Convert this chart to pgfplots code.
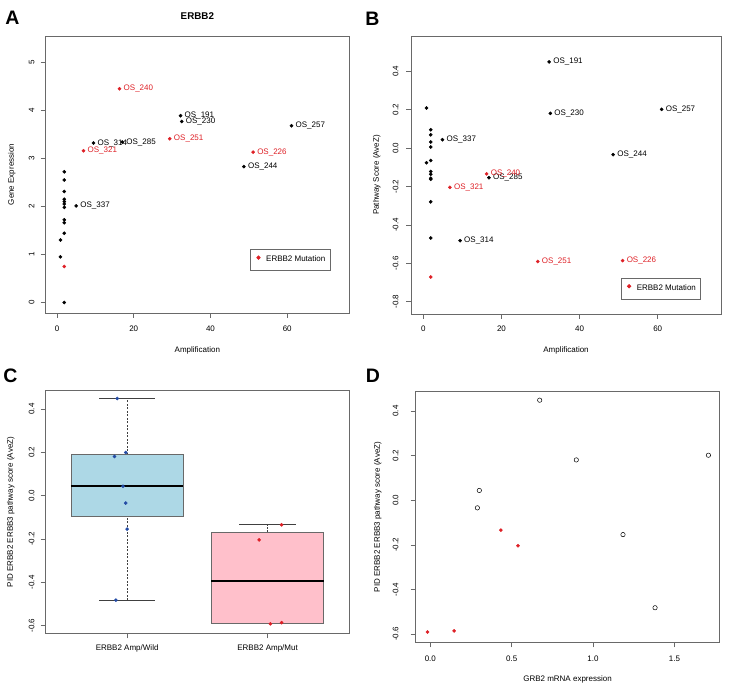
\documentclass[border=0pt]{standalone}
\usepackage{pgfplots}
\pgfplotsset{compat=1.18}
\usepgfplotslibrary{statistics}
\usepackage{fontspec}
\setmainfont{Liberation Sans}

\definecolor{framegray}{RGB}{105,105,105}
\definecolor{mutred}{RGB}{222,32,38}
\definecolor{wildblue}{RGB}{35,75,165}
\definecolor{boxblue}{RGB}{173,216,230}
\definecolor{boxpink}{RGB}{255,192,203}

\newcommand{\sz}{\fontsize{8bp}{9.6bp}\selectfont}

% Note: y tick labels and y labels are rotated by 90 degrees, so a local
% yshift moves them to the left.
\pgfplotsset{
  rpanel/.style={
    scale only axis,
    clip=false,
    axis line style={framegray, line width=0.7bp},
    every tick/.style={framegray, line width=0.7bp},
    tick align=outside,
    major tick length=5bp,
    tick pos=left,
    /pgf/number format/assume math mode=true,
    x tick label style={anchor=center, font=\sz},
    y tick label style={anchor=center, rotate=90, font=\sz},
    every axis x label/.style={at={(rel axis cs:0.5,0)}, anchor=center, font=\sz},
    every axis y label/.style={at={(rel axis cs:0,0.5)}, anchor=center, rotate=90, font=\sz},
  },
  ptlabels/.style={
    nodes near coords, point meta=explicit symbolic,
    nodes near coords align=horizontal,
    every node near coord/.append style={anchor=west, inner sep=0pt, xshift=4bp, font=\sz, text=#1},
  },
  mutlegend/.style={
    legend style={draw=framegray, line width=0.7bp, inner xsep=4.7bp, inner ysep=6.2bp,
      nodes={inner sep=0pt, text depth=0.22em}, font=\sz},
    legend cell align=left,
    legend image code/.code={\fill[mutred] (0bp,0.25em) circle (1.7bp); \path (-3bp,0) (7.3bp,0);},
  },
}

\begin{document}
\begin{tikzpicture}[x=1bp,y=1bp]
\useasboundingbox (0,0) rectangle (730,687);

% ---------------- A: expression vs amplification ----------------
\begin{axis}[rpanel, at={(45.7bp,374bp)}, anchor=south west,
  width=303.3bp, height=277bp,
  xmin=-2.94, xmax=76.1, ymin=-0.23, ymax=5.54,
  xtick={0,20,40,60}, ytick={0,1,2,3,4,5},
  x tick label style={yshift=-11bp}, y tick label style={yshift=9bp},
  xlabel={Amplification}, ylabel={Gene Expression},
  xlabel style={yshift=-37bp}, ylabel style={yshift=34bp},
  title={ERBB2},
  every axis title/.style={at={(rel axis cs:0.5,1)}, anchor=center, yshift=20bp,
    font=\bfseries\fontsize{9.8bp}{11bp}\selectfont},
  mutlegend,
  legend style={at={(rel axis cs:0.674,0.231)}, anchor=north west},
]
\addplot[only marks, mark=*, mark size=1.6bp, black, forget plot] table {
x y
1.9 2.71
1.9 2.54
1.9 2.30
1.9 2.14
1.9 2.09
1.9 2.04
1.9 1.97
1.9 1.71
1.9 1.65
1.9 1.43
0.9 1.29
0.9 0.94
1.9 -0.01
};
\addplot[only marks, mark=*, mark size=1.6bp, black, forget plot, ptlabels=black] table[meta=label] {
x y label
32.2 3.88 OS\_191
32.5 3.76 OS\_230
61.1 3.67 OS\_257
9.5 3.31 OS\_314
17.0 3.33 OS\_285
48.7 2.82 OS\_244
5.0 2.00 OS\_337
};
\addplot[only marks, mark=*, mark size=1.6bp, mutred, forget plot, ptlabels=mutred] table[meta=label] {
x y label
16.3 4.44 OS\_240
29.4 3.40 OS\_251
6.9 3.15 OS\_321
51.1 3.12 OS\_226
};
\addplot[only marks, mark=*, mark size=1.6bp, mutred] table {
x y
1.9 0.74
};
\addlegendentry{ERBB2 Mutation}
\end{axis}

% ---------------- B: pathway score vs amplification ----------------
\begin{axis}[rpanel, at={(411bp,373bp)}, anchor=south west,
  width=310bp, height=278bp,
  xmin=-3.15, xmax=76.2, ymin=-0.864, ymax=0.584,
  xtick={0,20,40,60},
  ytick={-0.8,-0.6,-0.4,-0.2,0,0.2,0.4},
  yticklabels={-0.8,-0.6,-0.4,-0.2,0.0,0.2,0.4},
  x tick label style={yshift=-10bp}, y tick label style={yshift=10.3bp},
  xlabel={Amplification}, ylabel={Pathway Score (AveZ)},
  xlabel style={yshift=-36bp}, ylabel style={yshift=34.3bp},
  mutlegend,
  legend style={at={(rel axis cs:0.6765,0.1306)}, anchor=north west},
]
\addplot[only marks, mark=*, mark size=1.6bp, black, forget plot] table {
x y
0.8 0.209
1.9 0.096
1.9 0.069
1.9 0.032
1.9 0.006
0.8 -0.076
1.9 -0.065
1.9 -0.122
1.9 -0.136
1.9 -0.157
1.9 -0.162
1.9 -0.280
1.9 -0.468
};
\addplot[only marks, mark=*, mark size=1.6bp, black, forget plot, ptlabels=black] table[meta=label] {
x y label
32.2 0.449 OS\_191
32.5 0.181 OS\_230
61.0 0.202 OS\_257
4.9 0.044 OS\_337
48.6 -0.034 OS\_244
16.8 -0.154 OS\_285
9.4 -0.482 OS\_314
};
\addplot[only marks, mark=*, mark size=1.6bp, mutred, forget plot, ptlabels=mutred] table[meta=label] {
x y label
16.2 -0.134 OS\_240
6.8 -0.204 OS\_321
29.3 -0.591 OS\_251
51.0 -0.586 OS\_226
};
\addplot[only marks, mark=*, mark size=1.6bp, mutred] table {
x y
1.9 -0.671
};
\addlegendentry{ERBB2 Mutation}
\end{axis}

% ---------------- C: boxplots by group ----------------
\begin{axis}[rpanel, at={(45.7bp,53.7bp)}, anchor=south west,
  width=303.3bp, height=242.6bp,
  xmin=0.42, xmax=2.58, ymin=-0.635, ymax=0.485,
  xtick={1,2}, xticklabels={ERBB2 Amp/Wild, ERBB2 Amp/Mut},
  ytick={-0.6,-0.4,-0.2,0,0.2,0.4},
  yticklabels={-0.6,-0.4,-0.2,0.0,0.2,0.4},
  x tick label style={yshift=-10bp}, y tick label style={yshift=9bp},
  ylabel={PID ERBB2 ERBB3 pathway score (AveZ)},
  ylabel style={yshift=35bp},
  boxplot/draw direction=y,
  boxplot/box extend=0.8,
  boxplot/whisker extend=0.4,
  boxplot/every median/.style={black, line width=1.7bp},
  boxplot/every whisker/.style={black!75, line width=0.7bp},
  boxplot/draw/lower whisker/.code={
    \draw[/pgfplots/boxplot/every whisker/.try, dash pattern=on 2bp off 1.5bp]
      (boxplot box cs:\pgfplotsboxplotvalue{lower whisker},0.5) --
      (boxplot box cs:\pgfplotsboxplotvalue{lower quartile},0.5);
    \draw[/pgfplots/boxplot/every whisker/.try]
      (boxplot whisker cs:\pgfplotsboxplotvalue{lower whisker},0) --
      (boxplot whisker cs:\pgfplotsboxplotvalue{lower whisker},1);
  },
  boxplot/draw/upper whisker/.code={
    \draw[/pgfplots/boxplot/every whisker/.try, dash pattern=on 2bp off 1.5bp]
      (boxplot box cs:\pgfplotsboxplotvalue{upper quartile},0.5) --
      (boxplot box cs:\pgfplotsboxplotvalue{upper whisker},0.5);
    \draw[/pgfplots/boxplot/every whisker/.try]
      (boxplot whisker cs:\pgfplotsboxplotvalue{upper whisker},0) --
      (boxplot whisker cs:\pgfplotsboxplotvalue{upper whisker},1);
  },
]
\addplot[boxplot prepared={draw position=1,
    lower whisker=-0.482, lower quartile=-0.094, median=0.044,
    upper quartile=0.190, upper whisker=0.449},
  boxplot/every box/.style={fill=boxblue, draw=framegray, line width=0.7bp}]
  coordinates {};
\addplot[boxplot prepared={draw position=2,
    lower whisker=-0.591, lower quartile=-0.5885, median=-0.395,
    upper quartile=-0.169, upper whisker=-0.134},
  boxplot/every box/.style={fill=boxpink, draw=framegray, line width=0.7bp}]
  coordinates {};
% individual samples, spread sideways
\addplot[only marks, mark=*, mark size=1.6bp, wildblue] table {
x y
0.93 0.449
0.99 0.200
0.91 0.181
0.97 0.044
0.99 -0.034
1.00 -0.154
0.92 -0.482
};
\addplot[only marks, mark=*, mark size=1.6bp, mutred] table {
x y
2.10 -0.134
1.94 -0.204
2.02 -0.591
2.10 -0.586
};
\end{axis}

% ---------------- D: pathway score vs GRB2 ----------------
\begin{axis}[rpanel, at={(415.7bp,44.7bp)}, anchor=south west,
  width=303.6bp, height=250.6bp,
  xmin=-0.09, xmax=1.776, ymin=-0.637, ymax=0.487,
  xtick={0,0.5,1,1.5}, xticklabels={0.0,0.5,1.0,1.5},
  ytick={-0.6,-0.4,-0.2,0,0.2,0.4},
  yticklabels={-0.6,-0.4,-0.2,0.0,0.2,0.4},
  x tick label style={yshift=-11.7bp}, y tick label style={yshift=15bp},
  xlabel={GRB2 mRNA expression}, ylabel={PID ERBB2 ERBB3 pathway score (AveZ)},
  xlabel style={yshift=-36.7bp}, ylabel style={yshift=38bp},
]
\addplot[only marks, mark=o, mark size=2.2bp, black, mark options={line width=0.5bp}] table {
x y
0.672 0.449
0.897 0.181
1.709 0.202
0.301 0.044
0.289 -0.034
1.184 -0.154
1.381 -0.482
};
\addplot[only marks, mark=*, mark size=1.6bp, mutred] table {
x y
0.433 -0.134
0.539 -0.204
-0.018 -0.591
0.146 -0.586
};
\end{axis}

% panel letters
\begin{scope}[every node/.style={font=\bfseries\fontsize{19.5bp}{20bp}\selectfont, inner sep=0pt}]
\node at (12.5,669.5) {A};
\node at (372.5,668.5) {B};
\node at (10.5,311.5) {C};
\node at (373,311.5) {D};
\end{scope}
\end{tikzpicture}
\end{document}
